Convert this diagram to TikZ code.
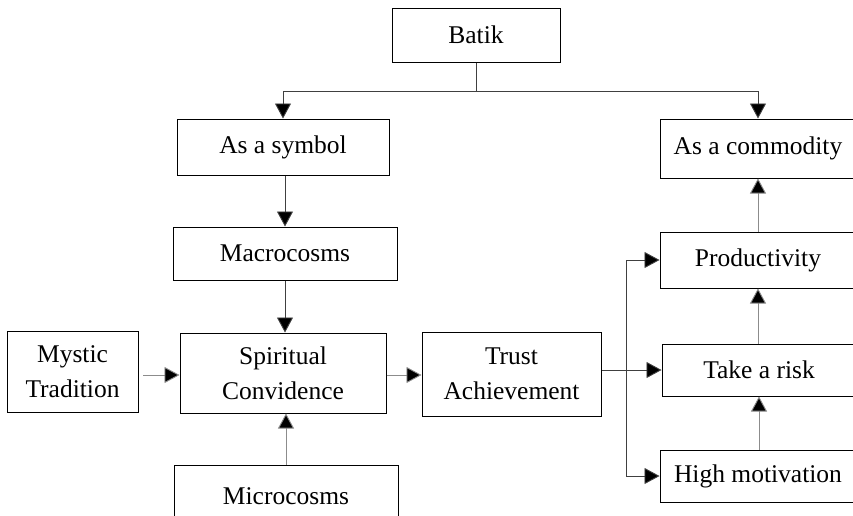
\documentclass[tikz,border=0pt]{standalone}
\usepackage{fontspec}
\setmainfont{Liberation Serif}
\usetikzlibrary{arrows.meta}
\begin{document}
\begin{tikzpicture}[x=1pt,y=-1pt,
  box/.style={draw=black,line width=1pt,fill=white,inner sep=0pt,align=center,
    font=\fontsize{25.5}{35}\selectfont},
  arr/.style={line width=0.9pt,draw=black!75,-{Triangle[width=16pt,length=15pt,fill=black]}},
  garr/.style={arr,draw=black!45},
  ln/.style={line width=0.9pt,draw=black!75}]
\useasboundingbox (0,0) rectangle (853,515);
\node[box,minimum width=168pt,minimum height=54pt] (batik) at (476,35) {Batik};
\node[box,minimum width=212pt,minimum height=56pt] (sym) at (283,147) {As a symbol};
\node[box,minimum width=196pt,minimum height=59pt] (com) at (758,148.5) {As a commodity};
\node[box,minimum width=224pt,minimum height=53pt] (macro) at (285,253.5) {Macrocosms};
\node[box,minimum width=206pt,minimum height=80pt] (spir) at (283,373) {Spiritual\\Convidence};
\node[box,minimum width=131pt,minimum height=81pt] (mystic) at (72.5,371.5) {Mystic\\Tradition};
\node[box,minimum width=179pt,minimum height=84pt] (trust) at (511.5,374) {Trust\\Achievement};
\node[box,minimum width=224pt,minimum height=62pt] (micro) at (286,496) {Microcosms};
\node[box,minimum width=196pt,minimum height=56pt] (prod) at (758,260) {Productivity};
\node[box,minimum width=194pt,minimum height=52pt] (risk) at (759,370) {Take a risk};
\node[box,minimum width=196pt,minimum height=52pt] (high) at (758,476) {High motivation};
\coordinate (tj) at (476,91);
\coordinate (br) at (626,370);
\coordinate (mys) at (143,375);
\draw[ln] (batik.south) -- (tj);
\draw[arr] (tj) -| (sym.north);
\draw[arr] (tj) -| (com.north);
\draw[arr] (sym.south -| macro.north) -- (macro.north);
\draw[arr] (macro.south) -- (macro.south |- spir.north);
\draw[garr] (micro.north) -- (micro.north |- spir.south);
\draw[garr] (mys) -- (mys -| spir.west);
\draw[garr] (spir.east |- mys) -- (mys -| trust.west);
\draw[arr] (trust.east |- br) -- (risk.west |- br);
\draw[arr] (br) |- (prod.west);
\draw[arr] (br) |- (high.west);
\draw[garr] (prod.north) -- (com.south);
\draw[garr] (risk.north -| prod.south) -- (prod.south);
\draw[garr] (high.north -| risk.south) -- (risk.south);
\end{tikzpicture}
\end{document}
